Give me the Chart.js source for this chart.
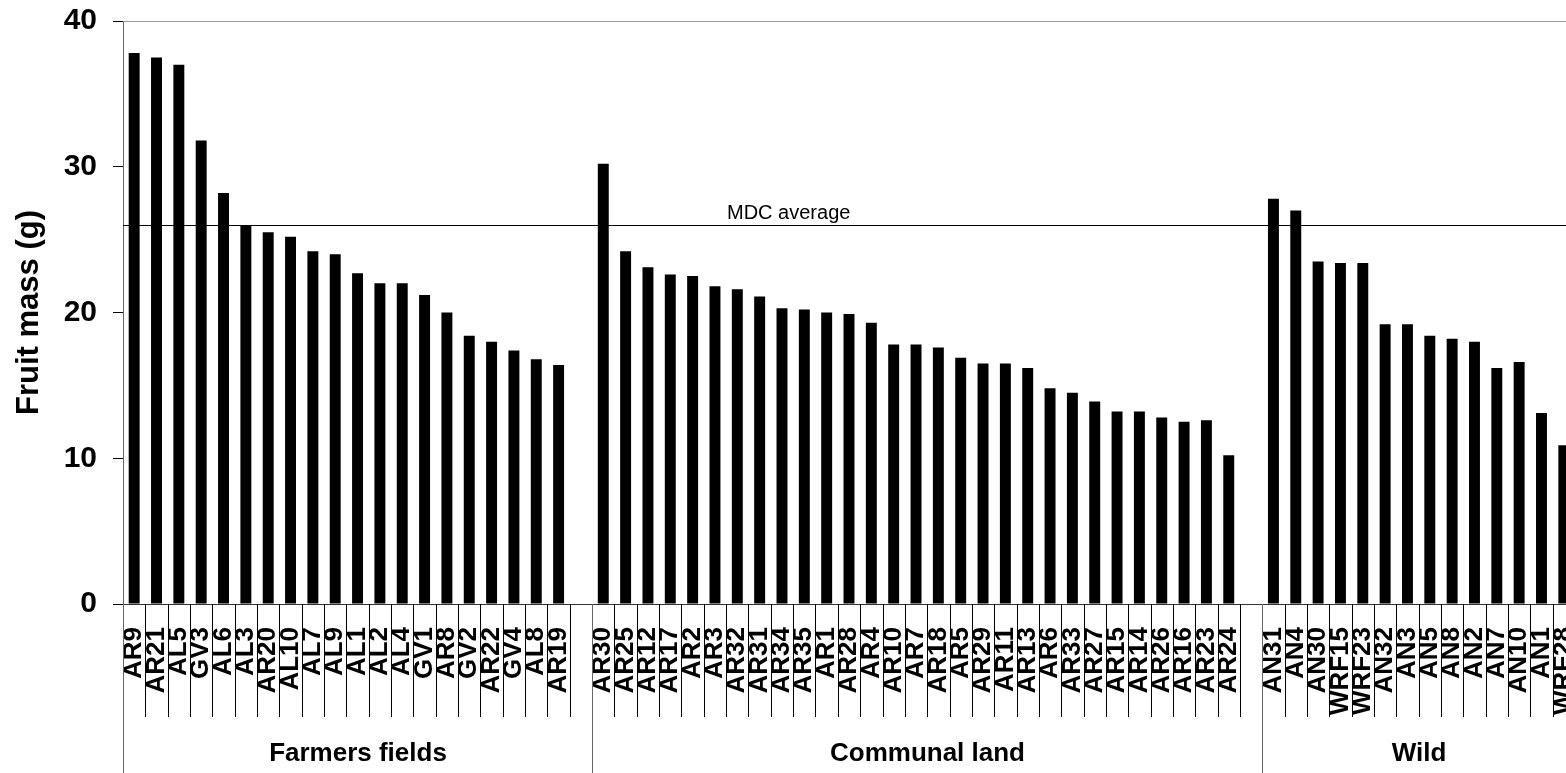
<!DOCTYPE html>
<html>
<head>
<meta charset="utf-8">
<script src="https://cdn.jsdelivr.net/npm/chart.js@4/dist/chart.umd.min.js"></script>
<style>
  html, body { margin: 0; padding: 0; background: #fff; overflow: hidden; }
  canvas { display: block; }
</style>
</head>
<body>
<canvas id="massChart" width="1620" height="773"></canvas>
<script>
// Accessions per land-use group (sorted as in the figure)
const farmers = ["AR9", "AR21", "AL5", "GV3", "AL6", "AL3", "AR20", "AL10", "AL7", "AL9",
  "AL1", "AL2", "AL4", "GV1", "AR8", "GV2", "AR22", "GV4", "AL8", "AR19"];
const farmersMass = [37.8, 37.5, 37.0, 31.8, 28.2, 26.0, 25.5, 25.2, 24.2, 24.0,
  22.7, 22.0, 22.0, 21.2, 20.0, 18.4, 18.0, 17.4, 16.8, 16.4];

const communal = ["AR30", "AR25", "AR12", "AR17", "AR2", "AR3", "AR32", "AR31", "AR34", "AR35",
  "AR1", "AR28", "AR4", "AR10", "AR7", "AR18", "AR5", "AR29", "AR11", "AR13",
  "AR6", "AR33", "AR27", "AR15", "AR14", "AR26", "AR16", "AR23", "AR24"];
const communalMass = [30.2, 24.2, 23.1, 22.6, 22.5, 21.8, 21.6, 21.1, 20.3, 20.2,
  20.0, 19.9, 19.3, 17.8, 17.8, 17.6, 16.9, 16.5, 16.5, 16.2,
  14.8, 14.5, 13.9, 13.2, 13.2, 12.8, 12.5, 12.6, 10.2];

const wild = ["AN31", "AN4", "AN30", "WRF15", "WRF23", "AN32", "AN3", "AN5", "AN8", "AN2",
  "AN7", "AN10", "AN1", "WRF28"];
const wildMass = [27.8, 27.0, 23.5, 23.4, 23.4, 19.2, 19.2, 18.4, 18.2, 18.0,
  16.2, 16.6, 13.1, 10.9];

const groupNames = ["Farmers fields", "Communal land", "Wild"];
const mdcAverage = 26.0;
const yTicks = [0, 10, 20, 30, 40];

// one empty slot after the first two groups
const labels = [...farmers, "", ...communal, "", ...wild];
const values = [...farmersMass, null, ...communalMass, null, ...wildMass];
const groupSlots = [farmers.length + 1, communal.length + 1, wild.length];

const mdcLabelAt = 29.3; // category position of the "MDC average" text

// separators, group labels, top border and the MDC line
const groupAxis = {
  id: "groupAxis",
  afterDraw(chart) {
    const { ctx, chartArea, scales: { x, y } } = chart;
    const slot = x.getPixelForValue(1) - x.getPixelForValue(0);
    const edge = (i) => Math.round(x.getPixelForValue(i) - slot / 2) + 0.5;
    const base = chartArea.bottom;

    ctx.save();
    // top border
    ctx.strokeStyle = "#999";
    ctx.lineWidth = 1;
    ctx.beginPath();
    ctx.moveTo(chartArea.left, Math.round(chartArea.top) + 0.5);
    ctx.lineTo(chartArea.right, Math.round(chartArea.top) + 0.5);
    ctx.stroke();

    // short separators between categories
    ctx.strokeStyle = "#000";
    ctx.beginPath();
    for (let i = 1; i < labels.length; i++) {
      ctx.moveTo(edge(i), base);
      ctx.lineTo(edge(i), base + 113);
    }
    ctx.stroke();

    // group boundaries + names
    ctx.strokeStyle = "#666";
    ctx.fillStyle = "#000";
    ctx.font = "bold 26px 'Liberation Sans', Arial, sans-serif";
    ctx.textAlign = "center";
    ctx.textBaseline = "middle";
    let start = 0;
    groupSlots.forEach((n, g) => {
      const a = edge(start), b = edge(start + n);
      ctx.beginPath();
      ctx.moveTo(a, base);
      ctx.lineTo(a, chart.height);
      ctx.moveTo(b, base);
      ctx.lineTo(b, chart.height);
      ctx.stroke();
      ctx.fillText(groupNames[g], (a + b) / 2, 754);
      start += n;
    });

    // MDC average line
    const my = Math.round(y.getPixelForValue(mdcAverage)) + 0.5;
    ctx.strokeStyle = "#000";
    ctx.beginPath();
    ctx.moveTo(chartArea.left, my);
    ctx.lineTo(chartArea.right, my);
    ctx.stroke();
    ctx.font = "20px 'Liberation Sans', Arial, sans-serif";
    ctx.textBaseline = "alphabetic";
    ctx.fillText("MDC average", x.getPixelForValue(mdcLabelAt), my - 7);
    ctx.restore();
  }
};

Chart.defaults.font.family = "'Liberation Sans', Arial, sans-serif";
Chart.defaults.color = "#000";

new Chart(document.getElementById("massChart"), {
  type: "bar",
  data: {
    labels: labels,
    datasets: [{
      data: values,
      backgroundColor: "#000",
      borderWidth: 0,
      categoryPercentage: 1,
      barPercentage: 0.49
    }]
  },
  options: {
    responsive: false,
    devicePixelRatio: 1,
    animation: false,
    layout: { padding: { top: 21, right: 45, left: 0, bottom: 0 } },
    plugins: { legend: { display: false }, tooltip: { enabled: false } },
    scales: {
      x: {
        grid: { display: false },
        border: { display: true, color: "#333", width: 1 },
        ticks: {
          autoSkip: false,
          maxRotation: 90,
          minRotation: 90,
          padding: 15,
          font: { size: 26, weight: "bold" },
          color: "#000"
        },
        afterFit: (scale) => { scale.height = 169; }
      },
      y: {
        min: 0,
        max: 40,
        afterBuildTicks: (scale) => { scale.ticks = yTicks.map((v) => ({ value: v })); },
        grid: { drawOnChartArea: false, drawTicks: true, tickLength: 10, color: "#000" },
        border: { display: true, color: "#666", width: 1 },
        ticks: { padding: 16, font: { size: 30, weight: "bold" }, color: "#000" },
        title: {
          display: true,
          text: "Fruit mass (g)",
          font: { size: 31, weight: "bold" },
          padding: { top: 11, bottom: 0 },
          color: "#000"
        },
        afterFit: (scale) => {
          scale.width = 123;
          scale.paddingTop = 0;
          scale.paddingBottom = 0;
        }
      }
    }
  },
  plugins: [groupAxis]
});
</script>
</body>
</html>
